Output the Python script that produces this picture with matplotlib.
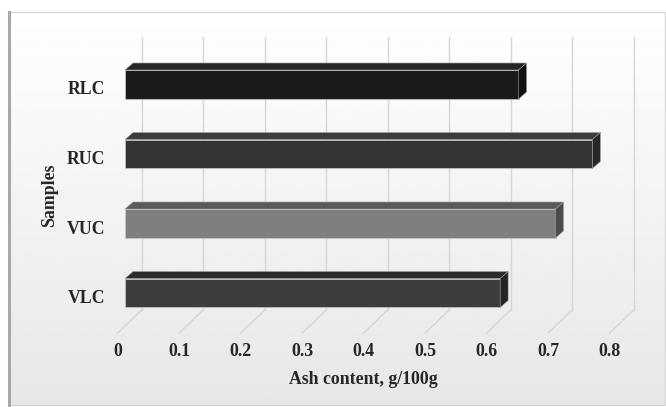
import numpy as np
import matplotlib
matplotlib.use("Agg")
import matplotlib.pyplot as plt
from matplotlib.patches import Polygon, Rectangle
from matplotlib.lines import Line2D
from matplotlib.transforms import IdentityTransform

# ---- data (bottom to top) ----
samples = ["VLC", "VUC", "RUC", "RLC"]
ash_content = [0.61, 0.70, 0.76, 0.64]
x_ticks = [0, 0.1, 0.2, 0.3, 0.4, 0.5, 0.6, 0.7, 0.8]
x_tick_labels = ["0", "0.1", "0.2", "0.3", "0.4", "0.5", "0.6", "0.7", "0.8"]

front_colors = ["#3d3d3d", "#7f7f7f", "#333333", "#1b1b1b"]
top_colors = ["#2b2b2b", "#5a5a5a", "#3c3c3c", "#262626"]
side_colors = ["#242424", "#4b4b4b", "#272727", "#111111"]

W, H = 666, 407
FONT = dict(family="Liberation Serif", weight="bold", color="#262626", size=12.8)
GRID_C = "#d6d6d6"

# 3D depth offsets in pixels (relative to the bars' front plane)
BAR_DX, BAR_DY = 8, 7          # bar thickness in depth
BACK_DX = 16.7                 # back wall
FRONT_DX = -7.3                # front edge of floor / tick labels
WALL_TOP, WALL_BOT, FLOOR_FRONT = H - 37, H - 310, H - 333

fig = plt.figure(figsize=(W / 100, H / 100), dpi=100)
fig.patch.set_facecolor("white")

# background panel with vertical gradient and frame
bg = fig.add_axes([0, 0, 1, 1])
bg.set_xlim(0, W)
bg.set_ylim(0, H)
bg.axis("off")
grad = np.linspace(0.905, 1.0, 256).reshape(-1, 1)
bg.imshow(grad, cmap="gray", vmin=0, vmax=1, aspect="auto",
          extent=[9, W - 1, 2, H - 12], origin="lower", zorder=0)
bg.add_patch(Rectangle((9, 2), W - 10, H - 14, fill=False,
                       ec="#d8d8d8", lw=1.0, zorder=1))
bg.plot([9, 9], [2, H - 12], color="#a8a8a8", lw=2.2, zorder=2)

ax = fig.add_axes([125 / W, 79.25 / H, 492 / W, 278 / H])
ax.set_xlim(0, 0.8)
ax.set_ylim(-0.5, 3.5)
ax.axis("off")
ax.patch.set_alpha(0)

pos = np.arange(len(samples))
bar_h = 0.417
ident = IdentityTransform()


def px(x, y):
    return ax.transData.transform((x, y))


# back wall gridlines and floor diagonals (on the background layer)
for t, lab in zip(x_ticks, x_tick_labels):
    bx = px(t, 0)[0] + BACK_DX
    fx = px(t, 0)[0] + FRONT_DX
    bg.add_line(Line2D([bx, bx], [WALL_BOT, WALL_TOP], color=GRID_C,
                       lw=1.0, transform=ident, zorder=3))
    bg.add_line(Line2D([bx, fx], [WALL_BOT, FLOOR_FRONT], color=GRID_C,
                       lw=1.0, transform=ident, zorder=3))
    fig.text(fx, H - 352, lab, ha="center", va="center",
             transform=ident, **FONT)

# front faces of the bars
ax.barh(pos, ash_content, height=bar_h, color=front_colors,
        edgecolor="#c8c8c8", linewidth=0.5, zorder=3)

# top and side faces
for i, v in enumerate(ash_content):
    x0, yt = px(0, pos[i] + bar_h / 2)
    x1, yb = px(v, pos[i] - bar_h / 2)
    top = Polygon([(x0, yt), (x0 + BAR_DX, yt + BAR_DY),
                   (x1 + BAR_DX, yt + BAR_DY), (x1, yt)],
                  closed=True, fc=top_colors[i], ec="#a0a0a0", lw=0.4,
                  transform=ident, zorder=4, clip_on=False)
    side = Polygon([(x1, yt), (x1 + BAR_DX, yt + BAR_DY),
                    (x1 + BAR_DX, yb + BAR_DY), (x1, yb)],
                   closed=True, fc=side_colors[i], ec="#a0a0a0", lw=0.4,
                   transform=ident, zorder=4, clip_on=False)
    ax.add_patch(top)
    ax.add_patch(side)

    # category label
    lx, ly = px(0, pos[i])
    fig.text(lx - 20, ly - 5.5, samples[i], ha="right", va="center",
             transform=ident, **FONT)

fig.text(363, H - 379, "Ash content, g/100g", ha="center", va="center",
         transform=ident, **FONT)
fig.text(50, H - 195, "Samples", ha="center", va="center", rotation=90,
         transform=ident, **FONT)

fig.savefig("out.png", dpi=100)
